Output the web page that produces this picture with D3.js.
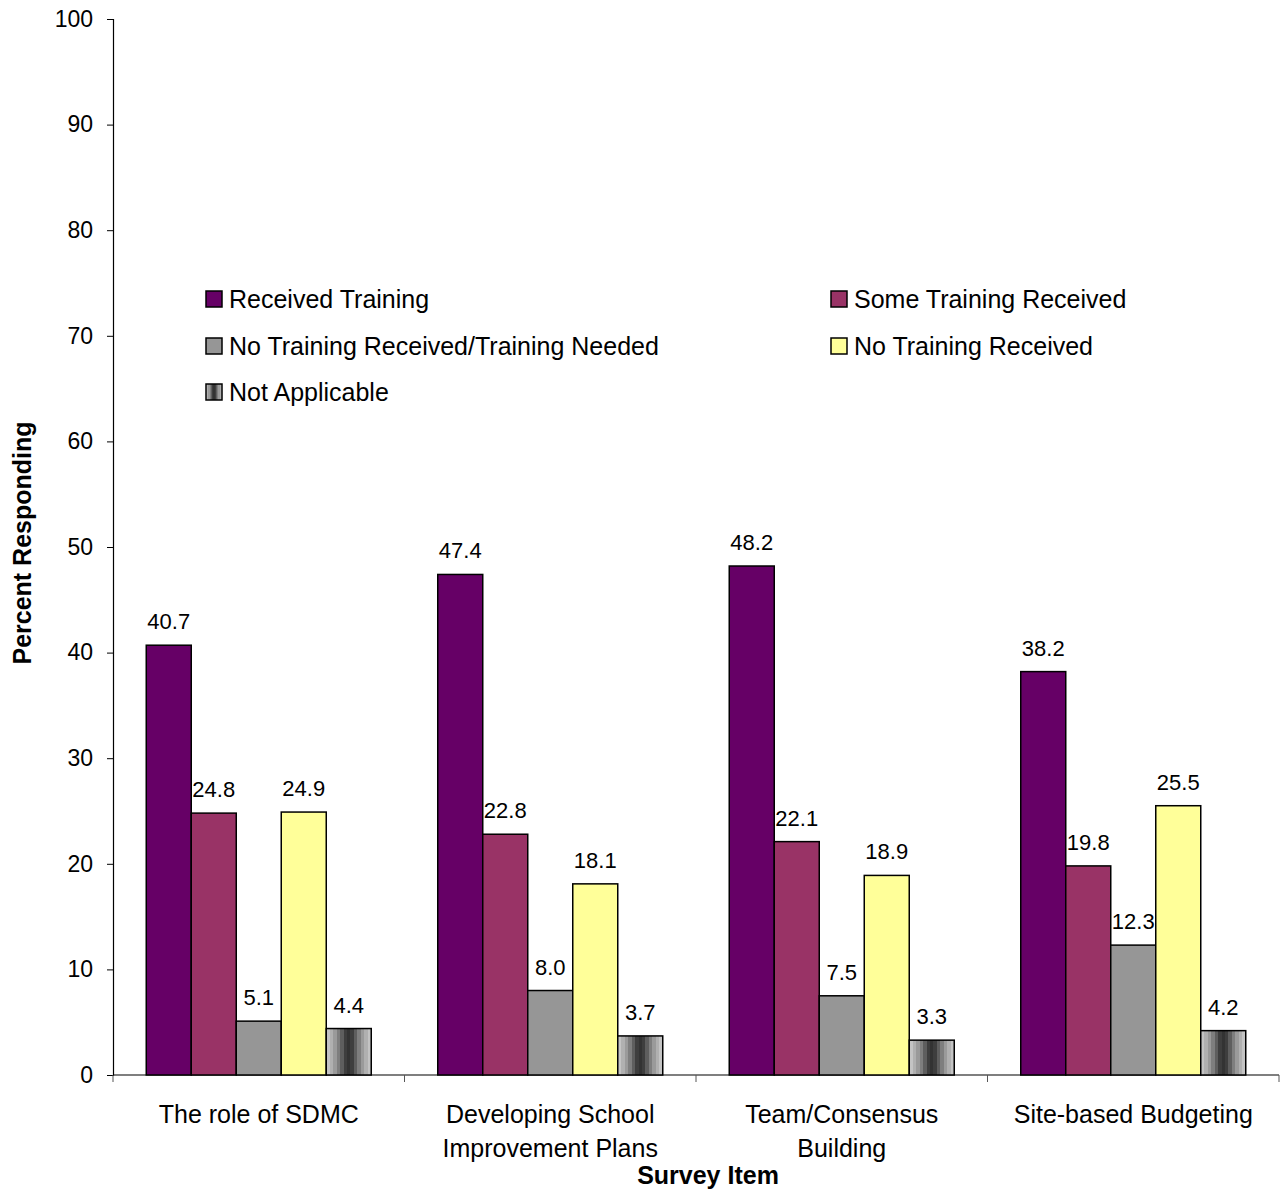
<!DOCTYPE html>
<html>
<head>
<meta charset="utf-8">
<script src="https://cdn.jsdelivr.net/npm/d3@7"></script>
<style>
  body { margin: 0; background: #fff; }
  svg { font-family: "Liberation Sans", Arial, sans-serif; }
</style>
</head>
<body>
<div id="chart"></div>
<script>
// chart data
var categories = [['The role of SDMC'], ['Developing School', 'Improvement Plans'], ['Team/Consensus', 'Building'], ['Site-based Budgeting']]
var seriesNames = ['Received Training', 'Some Training Received', 'No Training Received/Training Needed', 'No Training Received', 'Not Applicable']
var received = [40.7, 47.4, 48.2, 38.2]
var someReceived = [24.8, 22.8, 22.1, 19.8]
var noTrainingNeeded = [5.1, 8.0, 7.5, 12.3]
var noTraining = [24.9, 18.1, 18.9, 25.5]
var notApplicable = [4.4, 3.7, 3.3, 4.2]
var yTicks = [0, 10, 20, 30, 40, 50, 60, 70, 80, 90, 100]

var seriesValues = [received, someReceived, noTrainingNeeded, noTraining, notApplicable]
var fills = ['#660066', '#993366', '#969696', '#FFFF99', 'url(#naPattern)']

var width = 1280, height = 1190
var margin = { left: 113, right: 1, top: 19, bottom: 115 }

var svg = d3.select('#chart').append('svg')
    .attr('width', width)
    .attr('height', height)

// striped gradient for "Not Applicable"
var defs = svg.append('defs')
var grad = defs.append('linearGradient').attr('id', 'naPattern')
    .attr('x1', 0).attr('x2', 1).attr('y1', 0).attr('y2', 0)
var shades = ['#c4c4c4', '#b0b0b0', '#9a9a9a', '#7e7e7e', '#5e5e5e', '#3e3e3e', '#333333', '#3e3e3e', '#5e5e5e', '#7e7e7e', '#9a9a9a', '#b0b0b0', '#c4c4c4']
shades.forEach(function (c, i) {
    grad.append('stop').attr('offset', i / shades.length).attr('stop-color', c)
    grad.append('stop').attr('offset', (i + 1) / shades.length).attr('stop-color', c)
})

var x0 = d3.scaleBand()
    .domain(d3.range(categories.length))
    .range([margin.left, width - margin.right])
var inner = 45
var groupW = inner * seriesNames.length

var y = d3.scaleLinear().domain([0, 100]).range([1075, 19])

// y axis
var yAxis = svg.append('g')
    .attr('transform', 'translate(' + margin.left + ',0)')
    .call(d3.axisLeft(y).tickValues(yTicks).tickSize(6).tickPadding(14))
yAxis.select('.domain').attr('stroke', '#000').attr('stroke-width', 1.2)
yAxis.selectAll('.tick line').attr('stroke', '#000')
yAxis.selectAll('.tick text').attr('font-size', 23).attr('fill', '#000')
    .attr('font-family', '"Liberation Sans", Arial, sans-serif')

// x axis line with ticks at category boundaries
var xAxisG = svg.append('g')
xAxisG.append('line')
    .attr('x1', margin.left).attr('x2', width - margin.right)
    .attr('y1', y(0)).attr('y2', y(0))
    .attr('stroke', '#000').attr('stroke-width', 1.2)
var bounds = d3.range(categories.length + 1).map(function (i) {
    return i < categories.length ? x0(i) : x0(i - 1) + x0.bandwidth()
})
xAxisG.selectAll('.xtick').data(bounds).enter().append('line')
    .attr('x1', function (d) { return d }).attr('x2', function (d) { return d })
    .attr('y1', y(0)).attr('y2', y(0) + 7)
    .attr('stroke', '#555')

// bars
var groups = svg.selectAll('.grp')
    .data(categories)
    .enter().append('g')
    .attr('transform', function (d, i) {
        return 'translate(' + (x0(i) + (x0.bandwidth() - groupW) / 2) + ',0)'
    })

seriesValues.forEach(function (vals, s) {
    groups.append('rect')
        .attr('x', s * inner)
        .attr('width', inner)
        .attr('y', function (d, i) { return y(vals[i]) })
        .attr('height', function (d, i) { return y(0) - y(vals[i]) })
        .attr('fill', fills[s])
        .attr('stroke', '#000')
        .attr('stroke-width', 1.5)
    groups.append('text')
        .attr('x', s * inner + inner / 2)
        .attr('y', function (d, i) { return y(vals[i]) - 16 })
        .attr('text-anchor', 'middle')
        .attr('font-size', 22)
        .text(function (d, i) { return vals[i].toFixed(1) })
})

// category labels
groups.each(function (lines, i) {
    var t = d3.select(this).append('text')
        .attr('text-anchor', 'middle')
        .attr('font-size', 25)
        .attr('x', groupW / 2)
    lines.forEach(function (l, k) {
        t.append('tspan').attr('x', groupW / 2).attr('y', 1123 + k * 34).text(l)
    })
})

// axis titles
svg.append('text')
    .attr('x', 708).attr('y', 1184)
    .attr('text-anchor', 'middle')
    .attr('font-size', 25).attr('font-weight', 'bold')
    .text('Survey Item')
svg.append('text')
    .attr('transform', 'translate(31,543) rotate(-90)')
    .attr('text-anchor', 'middle')
    .attr('font-size', 25).attr('font-weight', 'bold')
    .text('Percent Responding')

// legend
var legendPos = [[206, 299], [831, 299], [206, 346], [831, 346], [206, 392]]
var legend = svg.selectAll('.leg').data(seriesNames).enter().append('g')
    .attr('transform', function (d, i) { return 'translate(' + legendPos[i][0] + ',' + legendPos[i][1] + ')' })
legend.append('rect')
    .attr('x', 0).attr('y', -8).attr('width', 16).attr('height', 16)
    .attr('fill', function (d, i) { return fills[i] })
    .attr('stroke', '#000').attr('stroke-width', 1.5)
legend.append('text')
    .attr('x', 23).attr('y', 9)
    .attr('font-size', 25)
    .text(function (d) { return d })
</script>
</body>
</html>
